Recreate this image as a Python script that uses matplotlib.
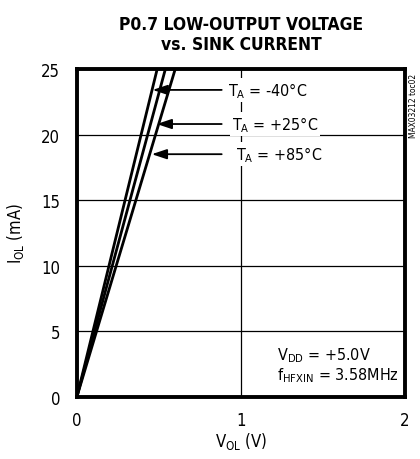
import matplotlib
matplotlib.use('Agg')
import matplotlib.pyplot as plt

# data
i_ol = [0, 5, 10, 15, 20, 25]
v_m40 = [0, 0.098, 0.196, 0.294, 0.392, 0.49]
v_p25 = [0, 0.108, 0.216, 0.324, 0.432, 0.54]
v_p85 = [0, 0.12, 0.24, 0.36, 0.48, 0.60]

labels = ['$\\mathregular{T_A}$ = -40°C', '$\\mathregular{T_A}$ = +25°C', '$\\mathregular{T_A}$ = +85°C']
arrow_y = [23.4, 20.8, 18.5]
arrow_tip = [0.445, 0.47, 0.44]
text_x = [0.92, 0.945, 0.97]

plt.rcParams['font.family'] = ['DejaVu Sans']
plt.rcParams['font.stretch'] = 'condensed'
plt.rcParams['mathtext.fontset'] = 'custom'
plt.rcParams['mathtext.rm'] = 'DejaVu Sans:stretch=condensed'

fig = plt.figure(figsize=(4.2, 4.6), dpi=100)
ax = fig.add_axes([0.183, 0.135, 0.781, 0.713])

for v in (v_m40, v_p25, v_p85):
    ax.plot(v, i_ol, color='black', lw=2.0, solid_capstyle='butt', zorder=3)

ax.set_xlim(0, 2)
ax.set_ylim(0, 25)
ax.set_xticks([0, 1, 2])
ax.set_yticks([0, 5, 10, 15, 20, 25])
ax.grid(True, color='black', lw=0.9)
ax.tick_params(length=0, labelsize=12)
ax.tick_params(axis='y', pad=12)
ax.tick_params(axis='x', pad=10)
for s in ax.spines.values():
    s.set_linewidth(2.8)

for lab, y, tip, tx in zip(labels, arrow_y, arrow_tip, text_x):
    ax.annotate('', xy=(tip, y), xytext=(0.9, y),
                arrowprops=dict(arrowstyle='-|>,head_length=0.9,head_width=0.3',
                                color='black', lw=1.3), zorder=4)
    ax.text(tx, y, lab, fontsize=11.5, va='center', ha='left', zorder=5,
            bbox=dict(facecolor='white', edgecolor='none', pad=1.5))

ax.text(1.22, 3.2, '$\\mathregular{V_{DD}}$ = +5.0V', fontsize=11.5, va='center')
ax.text(1.22, 1.7, '$\\mathregular{f_{HFXIN}}$ = 3.58MHz', fontsize=11.5, va='center')

ax.set_xlabel('$\\mathregular{V_{OL}}$ (V)', fontsize=12, labelpad=1)
ax.set_ylabel('$\\mathregular{I_{OL}}$ (mA)', fontsize=12, labelpad=11)

fig.text(0.575, 0.965, 'P0.7 LOW-OUTPUT VOLTAGE\nvs. SINK CURRENT', ha='center', va='top',
         fontsize=12.5, fontweight='bold', linespacing=1.15)
fig.text(0.985, 0.84, 'MAX03212 toc02', rotation=90, fontsize=6, va='top', ha='center')

fig.savefig('out.png', dpi=100)
